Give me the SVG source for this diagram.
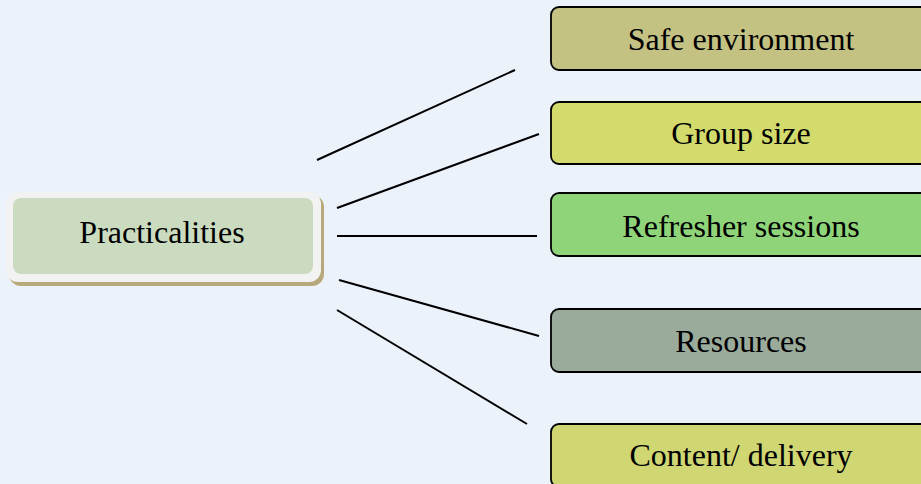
<svg xmlns="http://www.w3.org/2000/svg" width="921" height="484" viewBox="0 0 921 484">
<style>
text{font-family:"Liberation Serif","Times New Roman",serif;font-size:32px;fill:#000;text-anchor:middle}
.box{stroke:#000;stroke-width:1.8}
#connectors line{stroke:#000;stroke-width:2}
</style>
<rect width="921" height="484" fill="#ecf2fa"/>
<g id="connectors">
<line x1="317" y1="160" x2="515" y2="70"/>
<line x1="337" y1="208" x2="539" y2="134"/>
<line x1="337" y1="236" x2="537" y2="236"/>
<line x1="339" y1="280" x2="539" y2="336"/>
<line x1="337" y1="310" x2="527" y2="424"/>
</g>
<g id="practicalities">
<rect x="9" y="195" width="315" height="91" rx="12" fill="#b8a97c"/>
<rect x="6" y="192" width="315" height="90" rx="12" fill="#f2f2f2"/>
<rect x="13" y="198" width="300" height="76" rx="8" fill="#cbdbc0"/>
<text x="162" y="243">Practicalities</text>
</g>
<g id="safe-environment">
<rect class="box" x="551" y="7" width="380" height="63" rx="8" fill="#c4c283"/>
<text x="741" y="50">Safe environment</text>
</g>
<g id="group-size">
<rect class="box" x="551" y="102" width="380" height="62" rx="8" fill="#d3db6c"/>
<text x="741" y="144">Group size</text>
</g>
<g id="refresher-sessions">
<rect class="box" x="551" y="193" width="380" height="63" rx="8" fill="#8fd479"/>
<text x="741" y="237">Refresher sessions</text>
</g>
<g id="resources">
<rect class="box" x="551" y="309" width="380" height="63" rx="8" fill="#9aab9b"/>
<text x="741" y="352">Resources</text>
</g>
<g id="content-delivery">
<rect class="box" x="551" y="424" width="380" height="63" rx="8" fill="#cfd672"/>
<text x="741" y="466">Content/ delivery</text>
</g>
</svg>
